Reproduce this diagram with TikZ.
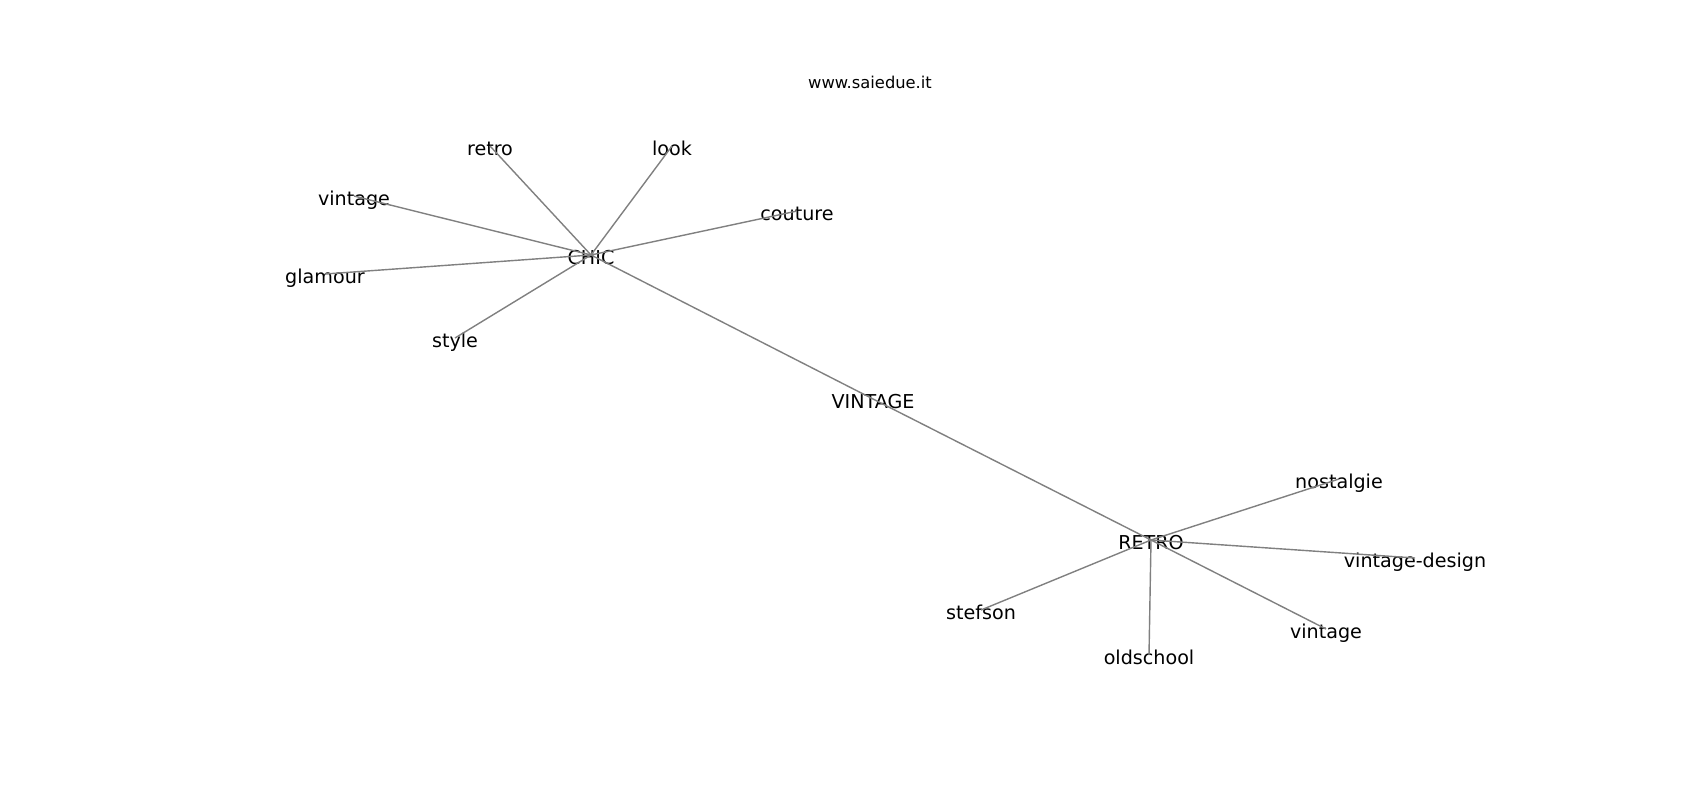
\documentclass[tikz,border=0pt]{standalone}
\usepackage{fontspec}
\setmainfont{DejaVu Sans}
\tikzset{
  word/.style={inner sep=0pt, text height=.76em, text depth=.24em, font=\fontsize{5.44}{6.5}\selectfont},
  link/.style={draw=black!50, line width=.4pt}
}
\begin{document}
\begin{tikzpicture}[x=0.01cm, y=-0.01cm]
        \useasboundingbox (0,0) rectangle (1700,800);

        \node (title) at (870,82) [inner sep=0pt, font=\fontsize{4.64}{5.5}\selectfont] {www.saiedue.it};

        \node (chic) at (591,255) [word] {CHIC};
        \node (vint) at (873,399) [word] {VINTAGE};
        \node (retro) at (1151,540) [word] {RETRO};

        \node (c1) at (490,146) [word] {retro};
        \node (c2) at (672,146) [word] {look};
        \node (c3) at (354,196) [word] {vintage};
        \node (c4) at (797,211) [word] {couture};
        \node (c5) at (325,274) [word] {glamour};
        \node (c6) at (455,338) [word] {style};

        \node (r1) at (1339,479) [word] {nostalgie};
        \node (r2) at (1415,558) [word] {vintage-design};
        \node (r3) at (981,610) [word] {stefson};
        \node (r4) at (1326,629) [word] {vintage};
        \node (r5) at (1149,655) [word] {oldschool};

        \draw[link] (chic.center) -- (vint.center) -- (retro.center);
        \foreach \i in {1,...,6} \draw[link] (chic.center) -- (c\i.center);
        \foreach \i in {1,...,5} \draw[link] (retro.center) -- (r\i.center);
        \end{tikzpicture}
\end{document}
